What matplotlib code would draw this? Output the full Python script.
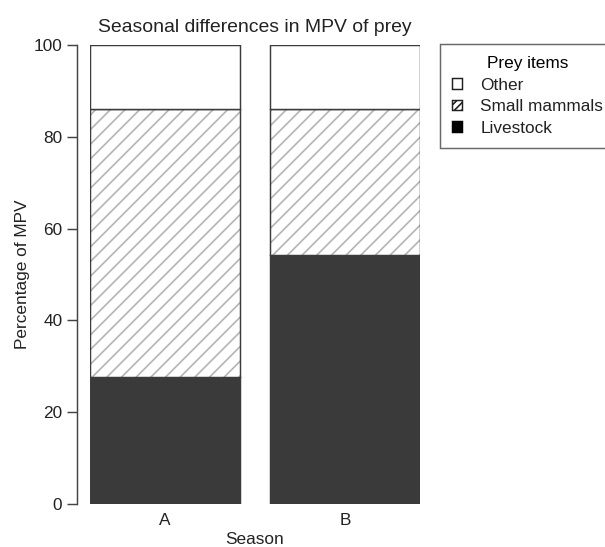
import numpy as np
import matplotlib
matplotlib.use('Agg')
from matplotlib import pyplot as plt
from matplotlib.patches import Patch

# data
seasons = ['A', 'B']
livestock = [27.6, 54.2]
small_mammals = [58.4, 31.8]
other = [14.0, 14.0]

DPI = 132
FS = 9.4
plt.rcParams['font.family'] = ['Liberation Sans', 'DejaVu Sans']
plt.rcParams['hatch.linewidth'] = 0.9

fig = plt.figure(figsize=(605 / DPI, 547 / DPI), dpi=DPI)
ax = fig.add_axes([90 / 605, 1 - 504 / 547, 330 / 605, 459 / 547])

x = np.array([0.7, 1.9])
base2 = np.array(livestock) + np.array(small_mammals)
edge = '#3c3c3c'
ax.bar(x, livestock, width=1.0, color='#3a3a3a', edgecolor=edge, linewidth=0.8)
# hatch in light grey, outline drawn on top in dark grey
ax.bar(x, small_mammals, width=1.0, bottom=livestock, color='white',
       edgecolor='#b4b4b4', linewidth=0, hatch='///')
ax.bar(x, small_mammals, width=1.0, bottom=livestock, fill=False,
       edgecolor=edge, linewidth=0.8)
ax.bar(x, other, width=1.0, bottom=base2, color='white', edgecolor=edge, linewidth=0.8)

ax.set_xlim(0.2, 2.4)
ax.set_ylim(0, 100)
for s in ['top', 'right', 'bottom']:
    ax.spines[s].set_visible(False)
ax.spines['left'].set_position(('outward', 13 * 72 / DPI))
ax.spines['left'].set_bounds(0, 100)
ax.spines['left'].set_color('#444444')
ax.spines['left'].set_linewidth(0.8)
ax.set_yticks([0, 20, 40, 60, 80, 100])
ax.tick_params(axis='y', length=5.5, width=0.8, color='#444444', labelsize=FS, pad=2.5,
               labelcolor='#222222')
ax.set_xticks(x)
ax.set_xticklabels(seasons)
ax.tick_params(axis='x', length=0, labelsize=FS, pad=5, labelcolor='#222222')

ax.set_ylabel('Percentage of MPV', fontsize=FS, labelpad=2, color='#222222')
ax.set_xlabel('Season', fontsize=FS, labelpad=2, color='#222222')
ax.set_title('Seasonal differences in MPV of prey', fontsize=10.6, pad=7, color='#222222')

handles = [Patch(facecolor='white', edgecolor='#222222', linewidth=0.8, label='Other'),
           Patch(facecolor='white', edgecolor='#222222', linewidth=0.8, hatch='//////', label='Small mammals'),
           Patch(facecolor='black', edgecolor='black', linewidth=0.8, label='Livestock')]
leg = fig.legend(handles=handles, title='Prey items', loc='upper left',
                 bbox_to_anchor=(440 / 605, 1 - 44 / 547), fontsize=FS, title_fontsize=FS,
                 frameon=True, fancybox=False, handlelength=0.55, handleheight=0.55,
                 handletextpad=1.1, labelspacing=0.38, borderpad=0.7, borderaxespad=0)
leg.get_frame().set_edgecolor('#444444')
leg.get_frame().set_linewidth(0.8)
for t in leg.get_texts():
    t.set_color('#222222')

fig.savefig('out.png', dpi=DPI)
